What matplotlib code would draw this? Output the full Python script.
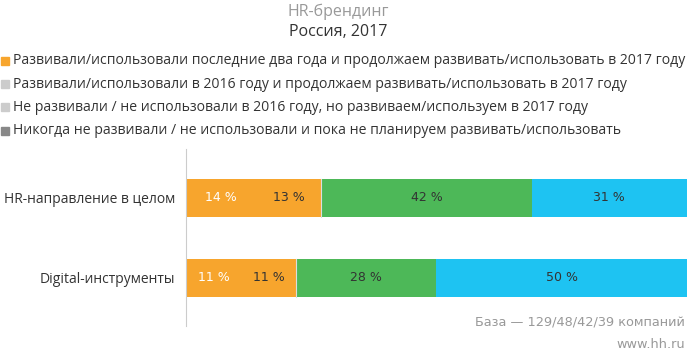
import matplotlib.pyplot as plt

plt.rcParams["font.family"] = ["Open Sans", "DejaVu Sans"]

# данные
categories = ["HR-направление в целом", "Digital-инструменты"]
seg1 = [14, 11]
seg2 = [13, 11]
seg3 = [42, 28]
seg4 = [31, 50]
legend_labels = [
    "Развивали/использовали последние два года и продолжаем развивать/использовать в 2017 году",
    "Развивали/использовали в 2016 году и продолжаем развивать/использовать в 2017 году",
    "Не развивали / не использовали в 2016 году, но развиваем/используем в 2017 году",
    "Никогда не развивали / не использовали и пока не планируем развивать/использовать",
]
legend_colors = ["#F7A52D", "#CCCCCC", "#CCCCCC", "#888888"]
bar_colors = ["#F7A52D", "#F7A52D", "#4DB858", "#1EC3F2"]
label_colors = ["white", "#333333", "#333333", "#333333"]

W, H = 688, 354
fig = plt.figure(figsize=(W / 100, H / 100), dpi=100)
ax = fig.add_axes([186 / W, 28 / H, 501 / W, 177 / H])

segments = [seg1, seg2, seg3, seg4]
y = list(range(len(categories)))
left = [0] * len(categories)
for i, seg in enumerate(segments):
    ax.barh(y, seg, left=left, height=0.475, color=bar_colors[i], edgecolor="none")
    for j, v in enumerate(seg):
        ax.text(left[j] + v / 2, y[j], f"{v} %", ha="center", va="center",
                fontsize=9, family="DejaVu Sans", color=label_colors[i])
    left = [l + v for l, v in zip(left, seg)]

# тонкая граница между оранжевым и зелёным
for j in y:
    x0 = seg1[j] + seg2[j]
    ax.plot([x0, x0], [j - 0.2375, j + 0.2375], color="#dddddd", lw=0.8)

ax.set_xlim(0, 100)
ax.set_ylim(1.6, -0.61)
ax.set_yticks(y)
ax.set_yticklabels(categories, fontsize=10, color="#333333")
ax.tick_params(axis="y", length=0, pad=8)
ax.set_xticks([])
for s in ["top", "right", "bottom"]:
    ax.spines[s].set_visible(False)
ax.spines["left"].set_color("#cccccc")

# заголовок
fig.text(338 / W, 1 - 12 / H, "HR-брендинг", ha="center", va="center", fontsize=11.5, color="#999999")
fig.text(338 / W, 1 - 32 / H, "Россия, 2017", ha="center", va="center", fontsize=11.5, color="#333333")

# легенда
for k, (lab, c) in enumerate(zip(legend_labels, legend_colors)):
    yy = 1 - (61 + k * 23.2) / H
    fig.patches.append(plt.Rectangle((1 / W, yy - 4 / H), 8 / W, 8 / H,
                                     transform=fig.transFigure, color=c))
    fig.text(13 / W, yy, lab, ha="left", va="center", fontsize=10.05, color="#333333")

fig.text(685 / W, 1 - 323 / H, "База — 129/48/42/39 компаний", ha="right", va="center",
         fontsize=9.3, family="DejaVu Sans", color="#999999")
fig.text(685 / W, 1 - 344 / H, "www.hh.ru", ha="right", va="center",
         fontsize=9.3, family="DejaVu Sans", color="#999999")

fig.savefig("out.png", dpi=100)
